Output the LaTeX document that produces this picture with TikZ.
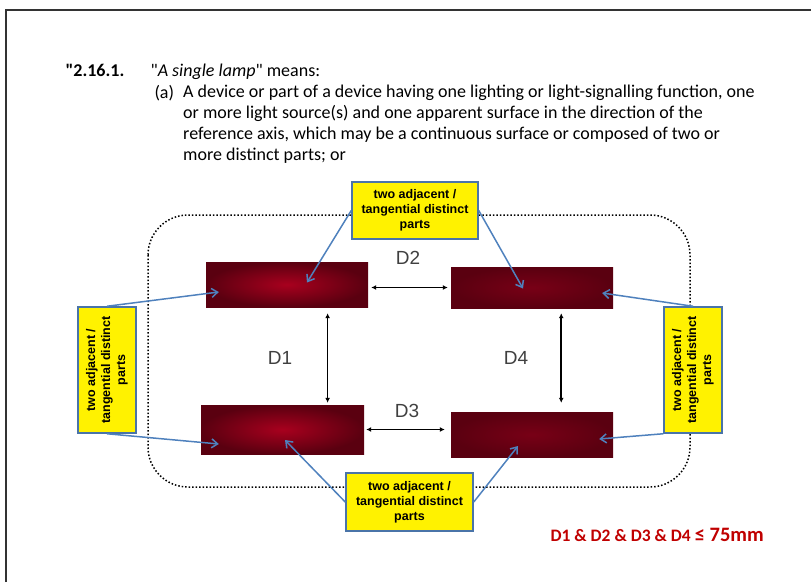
\documentclass[tikz,border=0pt]{standalone}
\usepackage{fontspec}
\setmainfont{Carlito}[Ligatures=TeXOff]
\newfontfamily\arialfont{Liberation Sans}
\usetikzlibrary{arrows.meta}
\usetikzlibrary{calc}

\definecolor{lampdark}{HTML}{5A0010}
\definecolor{lampbright}{HTML}{A8001E}
\definecolor{lampmid}{HTML}{780016}
\definecolor{boxedge}{HTML}{4A74A8}
\definecolor{pointblue}{HTML}{4F81BD}
\definecolor{limitred}{HTML}{C00000}
\definecolor{framegray}{HTML}{333333}

\tikzset{
  lamp/.style={rectangle,inner sep=0pt,outer color=lampdark,inner color=lampbright},
  flatlamp/.style={rectangle,inner sep=0pt,outer color=lampdark,inner color=lampmid},
  partsbox/.style={rectangle,draw=boxedge,line width=1.5pt,fill=yellow,inner sep=0pt,
    align=center,font=\arialfont\bfseries\fontsize{12.5}{15}\selectfont},
  gaparrow/.style={{Latex[length=5pt,width=5pt]}-{Latex[length=5pt,width=5pt]},line width=1.6pt,black},
  pointer/.style={-{Straight Barb[length=6pt,width=9pt]},line width=1.5pt,pointblue},
  dlabel/.style={font=\arialfont\fontsize{19}{19}\selectfont,text=black!75},
  deftext/.style={font=\fontsize{18}{21}\selectfont}
}

\begin{document}
\begin{tikzpicture}[x=1pt,y=-1pt]
\useasboundingbox (0,0) rectangle (811,582);
\draw[framegray,line width=2pt] (6,582) -- (6,10) -- (811,10);

% definition text
\node[anchor=base west,font=\fontsize{18}{21}\selectfont\bfseries] (num) at (62,76) {"2.16.1.};
\node[anchor=base west,deftext] (title) at (147,76) {"\textit{A single lamp}" means:};
\node[anchor=base west,deftext] (item) at (151,98) {(a)};
\node[anchor=north west,align=left,inner sep=0pt,deftext] (para) at (183,85)
  {A device or part of a device having one lighting or light-signalling function, one\\
   or more light source(s) and one apparent surface in the direction of the\\
   reference axis, which may be a continuous surface or composed of two or\\
   more distinct parts; or};

% dotted outline of the lamp
\draw[dotted,line width=1.5pt,rounded corners=40pt] (148,215) rectangle (690,487);

% lighting parts
\node[lamp,minimum width=162pt,minimum height=45pt] (lampTL) at (287,284.5) {};
\node[flatlamp,minimum width=162pt,minimum height=41pt] (lampTR) at (532,287.5) {};
\node[lamp,minimum width=163pt,minimum height=49pt] (lampBL) at (282.5,429.5) {};
\node[flatlamp,minimum width=162pt,minimum height=45pt] (lampBR) at (532,434.5) {};

% distances
\coordinate (d1top) at ($(lampTL.south west)!0.75!(lampTL.south east)$);
\coordinate (d4top) at ($(lampTR.south west)!0.68!(lampTR.south east)$);
\draw[gaparrow,shorten <=3pt,shorten >=3pt] (lampTL.east |- lampTR.west) -- (lampTR.west);
\draw[gaparrow,shorten <=2pt,shorten >=6pt] (lampBL.east) -- (lampBR.west |- lampBL.east);
\draw[gaparrow,shorten <=6pt,shorten >=2pt] (d1top) -- (d1top |- lampBL.north);
\draw[gaparrow,shorten <=5pt,shorten >=9pt] (d4top) -- (d4top |- lampBR.north);
\node[dlabel] (d2) at (408,258) {D2};
\node[dlabel] (d3) at (407,411) {D3};
\node[dlabel] (d1) at (280,358) {D1};
\node[dlabel] (d4) at (516,358) {D4};

% callouts
\node[partsbox,minimum width=126pt,minimum height=57pt] (partsTop) at (415,210.5) {two adjacent /\\tangential distinct\\parts};
\node[partsbox,minimum width=127pt,minimum height=58pt] (partsBot) at (409.5,502) {two adjacent /\\tangential distinct\\parts};
\node[partsbox,minimum width=58pt,minimum height=126pt] (partsLeft) at (107,370)
  {\rotatebox{90}{\begin{tabular}{@{}c@{}}two adjacent /\\tangential distinct\\parts\end{tabular}}};
\node[partsbox,minimum width=58pt,minimum height=126pt] (partsRight) at (693,370)
  {\rotatebox{90}{\begin{tabular}{@{}c@{}}two adjacent /\\tangential distinct\\parts\end{tabular}}};

\draw[pointer] (partsTop.west) -- ($(lampTL.center)+(20,-2)$);
\draw[pointer] (partsTop.east) -- ($(lampTR.center)+(-9,1)$);
\draw[pointer] (partsLeft.north) -- ($(lampTL.west)+(13,7.5)$);
\draw[pointer] (partsLeft.south) -- ($(lampBL.west)+(18,14.5)$);
\draw[pointer] (partsRight.north) -- ($(lampTR.east)+(-11,5.5)$);
\draw[pointer] (partsRight.south west) -- ($(lampBR.east)+(-14,4.5)$);
\draw[pointer] (partsBot.west) -- ($(lampBL.center)+(2.5,10.5)$);
\draw[pointer] (partsBot.east) -- ($(lampBR.center)+(-14,11.5)$);

\node[anchor=base west,text=limitred,font=\bfseries\fontsize{17.5}{20}\selectfont] (limit) at (547,541)
  {D1 \& D2 \& D3 \& D4 {\fontsize{20.5}{20}\selectfont ≤ 75mm}};
\end{tikzpicture}
\end{document}
